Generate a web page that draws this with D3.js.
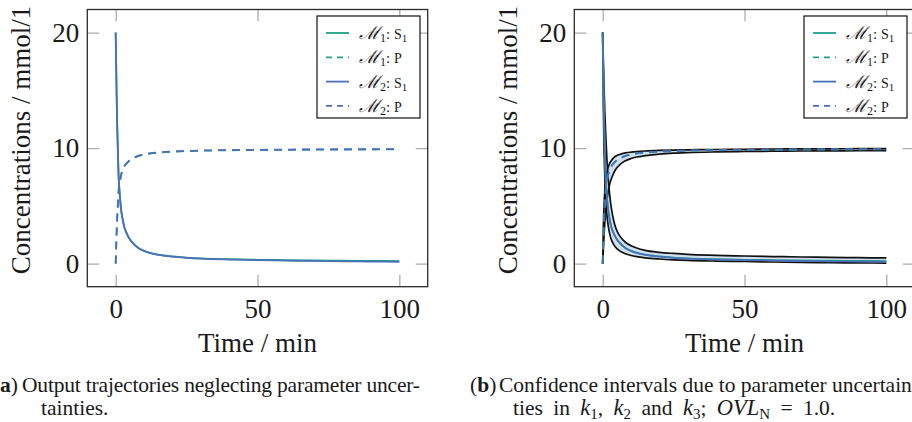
<!DOCTYPE html>
<html>
<head>
<meta charset="utf-8">
<script src="https://cdn.jsdelivr.net/npm/d3@7"></script>
<style>
  html, body { margin: 0; padding: 0; background: #fff; }
  svg { display: block; }
  text { font-family: "Liberation Serif", "DejaVu Serif", serif; fill: #1a1a1a; }
</style>
</head>
<body>
<svg id="fig" width="912" height="422"></svg>
<script>
// ---- data -------------------------------------------------------------
const times = [0, 0.25, 0.5, 0.75, 1, 1.5, 2, 2.5, 3, 4, 5, 6, 8, 10, 12, 15, 20, 25, 30, 40, 50, 60, 70, 80, 90, 100];

// model M1 (substrate S1 and product P)
const m1S = [20, 16, 12.4, 10, 7.8, 5.8, 4.5, 3.8, 3.2, 2.56, 2.1, 1.8, 1.35, 1.1, 0.93, 0.77, 0.62, 0.52, 0.45, 0.38, 0.33, 0.3, 0.27, 0.25, 0.23, 0.22];
const m1P = [0, 2.0, 3.8, 5.0, 6.1, 7.1, 7.75, 8.1, 8.4, 8.72, 8.95, 9.1, 9.32, 9.44, 9.53, 9.61, 9.69, 9.74, 9.77, 9.81, 9.83, 9.85, 9.86, 9.87, 9.88, 9.89];
// model M2
const m2S = [20, 16, 12.4, 10, 7.8, 5.8, 4.5, 3.8, 3.2, 2.56, 2.1, 1.8, 1.35, 1.1, 0.92, 0.75, 0.6, 0.5, 0.43, 0.35, 0.3, 0.26, 0.23, 0.2, 0.18, 0.16];
const m2P = [0, 2.0, 3.8, 5.0, 6.1, 7.1, 7.75, 8.1, 8.4, 8.72, 8.95, 9.1, 9.33, 9.45, 9.54, 9.62, 9.7, 9.75, 9.79, 9.83, 9.85, 9.87, 9.89, 9.9, 9.91, 9.92];

// confidence bounds from the uncertain rate constants k1, k2, k3
const bandSLow  = [20, 13.5, 9.8, 7.5, 6.0, 4.2, 3.2, 2.55, 2.1, 1.6, 1.3, 1.1, 0.85, 0.7, 0.6, 0.5, 0.4, 0.33, 0.28, 0.22, 0.18, 0.14, 0.11, 0.08, 0.06, 0.04];
const bandSHigh = [20, 17.5, 15.2, 13.2, 11.6, 9.0, 7.2, 5.9, 4.9, 3.6, 2.85, 2.4, 1.85, 1.55, 1.35, 1.15, 0.98, 0.88, 0.8, 0.72, 0.66, 0.61, 0.57, 0.54, 0.51, 0.49];
const bandPLow  = [0, 1.3, 2.5, 3.5, 4.3, 5.5, 6.3, 6.9, 7.3, 7.9, 8.3, 8.55, 8.9, 9.1, 9.23, 9.35, 9.48, 9.56, 9.61, 9.67, 9.71, 9.73, 9.75, 9.76, 9.77, 9.78];
const bandPHigh = [0, 3.2, 5.1, 6.3, 7.0, 7.9, 8.4, 8.7, 8.9, 9.2, 9.35, 9.45, 9.58, 9.65, 9.7, 9.75, 9.8, 9.83, 9.85, 9.88, 9.9, 9.92, 9.93, 9.94, 9.95, 9.96];

const xTicks = [0, 50, 100];
const yTicks = [0, 10, 20];
const xLabel = "Time / min";
const yLabel = "Concentrations / mmol/1";

const legendModels = ["1", "1", "2", "2"];
const legendSpecies = ["S", "P", "S", "P"];

// ---- styling ----------------------------------------------------------
const colM1 = "#22a08a";
const colM2 = "#4b6fb6";
const dash = "8,6";

const svg = d3.select("#fig");
const W = 340.4, H = 277.2;   // plot frame size
const panels = [{ x0: 87.3, y0: 9.5 }, { x0: 574.3, y0: 9.5 }];

const x = d3.scaleLinear().domain([-10, 110]).range([0, W]);
const y = d3.scaleLinear().domain([-2, 22]).range([H, 0]);

const line = (vals) => d3.line()
  .x((d, i) => x(times[i]))
  .y(d => y(d))
  .curve(d3.curveMonotoneX)(vals);

const area = (lo, hi) => d3.area()
  .x((d, i) => x(times[i]))
  .y0((d, i) => y(lo[i]))
  .y1((d, i) => y(hi[i]))
  .curve(d3.curveMonotoneX)(lo);

function drawPanel(p, withBands) {
  const g = svg.append("g").attr("transform", `translate(${p.x0},${p.y0})`);

  // inward gray ticks on all four sides
  const tickStyle = sel => {
    sel.select(".domain").remove();
    sel.selectAll(".tick line").attr("stroke", "#a8a8a8").attr("stroke-width", 1.2);
    sel.selectAll(".tick text")
      .style("font-family", '"Liberation Serif", serif')
      .style("font-size", "27px").attr("fill", "#1a1a1a");
  };
  g.append("g").attr("transform", `translate(0,${H})`)
    .call(d3.axisBottom(x).tickValues(xTicks).tickSize(-12).tickPadding(12))
    .call(tickStyle);
  g.append("g")
    .call(d3.axisTop(x).tickValues(xTicks).tickSize(-12).tickFormat(""))
    .call(tickStyle);
  g.append("g")
    .call(d3.axisLeft(y).tickValues(yTicks).tickSize(-12).tickPadding(8))
    .call(tickStyle);
  g.append("g").attr("transform", `translate(${W},0)`)
    .call(d3.axisRight(y).tickValues(yTicks).tickSize(-12).tickFormat(""))
    .call(tickStyle);

  if (withBands) {
    [[bandSLow, bandSHigh], [bandPLow, bandPHigh]].forEach(([lo, hi]) => {
      g.append("path").attr("d", area(lo, hi))
        .attr("fill", "#cfdfee").attr("stroke", "none");
    });
    [bandSLow, bandSHigh, bandPLow, bandPHigh].forEach(v => {
      g.append("path").attr("d", line(v))
        .attr("fill", "none").attr("stroke", "#111").attr("stroke-width", 1.7);
    });
  }

  const series = [
    { v: m1S, c: colM1, d: null },
    { v: m1P, c: colM1, d: dash },
    { v: m2S, c: colM2, d: null },
    { v: m2P, c: colM2, d: dash }
  ];
  series.forEach(s => {
    g.append("path").attr("d", line(s.v))
      .attr("fill", "none").attr("stroke", s.c).attr("stroke-width", 1.8)
      .attr("stroke-dasharray", s.d);
  });

  // frame
  g.append("rect").attr("width", W).attr("height", H)
    .attr("fill", "none").attr("stroke", "#2a2a2a").attr("stroke-width", 1.3);

  // legend
  const lg = g.append("g").attr("transform", `translate(${317 - 87.3},${16 - 9.5})`);
  lg.append("rect").attr("width", 103).attr("height", 102)
    .attr("fill", "#fff").attr("stroke", "#111").attr("stroke-width", 1.2);
  legendModels.forEach((m, i) => {
    const cy = 17 + i * 24.3;
    lg.append("line").attr("x1", 9).attr("x2", 32).attr("y1", cy).attr("y2", cy)
      .attr("stroke", m === "1" ? colM1 : colM2).attr("stroke-width", 1.8)
      .attr("stroke-dasharray", legendSpecies[i] === "P" ? "6,5" : null);
    const t = lg.append("text").attr("x", 42).attr("y", cy + 6);
    t.append("tspan").text("ℳ").style("font-family", '"DejaVu Serif", serif')
      .style("font-size", "18px").style("font-style", "italic");
    t.append("tspan").text(m).style("font-size", "12px").attr("dy", 3);
    t.append("tspan").text(": ").style("font-size", "15px").attr("dy", -3);
    t.append("tspan").text(legendSpecies[i]).style("font-size", "14px");
    if (legendSpecies[i] === "S") {
      t.append("tspan").text("1").style("font-size", "11px").attr("dy", 3);
    }
  });

  // axis titles
  g.append("text").attr("x", W / 2).attr("y", 352 - p.y0)
    .attr("text-anchor", "middle").style("font-size", "27px").text(xLabel);
  g.append("text")
    .attr("transform", `translate(${30 - 87.3},${140 - p.y0}) rotate(-90)`)
    .attr("text-anchor", "middle").style("font-size", "27px").text(yLabel);
}

drawPanel(panels[0], false);
drawPanel(panels[1], true);

// ---- sub-captions -----------------------------------------------------
const capSize = "21.5px";
const mathSize = "22.5px";
const subSize = "15px";

const capA1 = svg.append("text").attr("y", 392).style("font-size", capSize);
capA1.append("tspan").attr("x", -7).text("(");
capA1.append("tspan").attr("x", 0).text("a").style("font-weight", "bold");
capA1.append("tspan").text(")");
capA1.append("tspan").attr("x", 22).attr("textLength", 398).attr("lengthAdjust", "spacing")
  .text("Output trajectories neglecting parameter uncer-");
svg.append("text").attr("x", 41).attr("y", 415).style("font-size", capSize).text("tainties.");

const capB1 = svg.append("text").attr("y", 392).style("font-size", capSize);
capB1.append("tspan").attr("x", 470).text("(");
capB1.append("tspan").text("b").style("font-weight", "bold");
capB1.append("tspan").text(")");
capB1.append("tspan").attr("x", 499).attr("textLength", 420).attr("lengthAdjust", "spacing")
  .text("Confidence intervals due to parameter uncertain-");

// second line flows naturally, with wider inter-word glue
const capB2 = svg.append("text").attr("x", 513).attr("y", 415)
  .style("font-size", capSize).style("word-spacing", "5px");
capB2.append("tspan").text("ties in ");
const mathK = (sub, after) => {
  capB2.append("tspan").text("k").style("font-style", "italic").style("font-size", mathSize);
  capB2.append("tspan").text(sub).style("font-size", subSize).attr("dy", 4);
  capB2.append("tspan").text(after).attr("dy", -4);
};
mathK("1", ", ");
mathK("2", " and ");
mathK("3", "; ");
capB2.append("tspan").text("OVL").style("font-style", "italic").style("font-size", mathSize);
capB2.append("tspan").text("N").style("font-size", subSize).attr("dy", 4);
capB2.append("tspan").attr("dy", -4).text(" = 1.0.");
</script>
</body>
</html>
